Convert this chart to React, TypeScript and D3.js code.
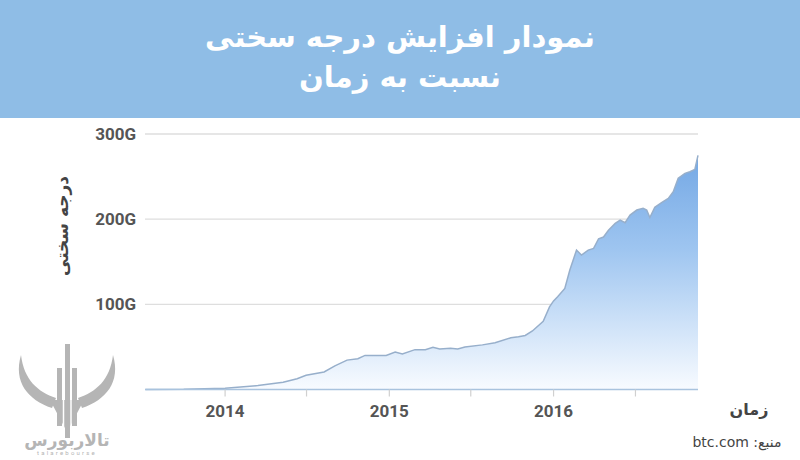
import React from "react";
import * as d3 from "d3";

const dates: string[] = [
  "2013-07-08","2013-10-01","2014-01-01","2014-03-15","2014-05-10","2014-06-10","2014-06-30","2014-08-09",
  "2014-09-02","2014-09-29","2014-10-23","2014-11-08","2014-12-25","2015-01-14","2015-01-30","2015-02-27",
  "2015-03-22","2015-04-08","2015-04-23","2015-05-17","2015-06-02","2015-06-18","2015-07-27","2015-08-24",
  "2015-09-28","2015-10-15","2015-10-30","2015-11-15","2015-12-09","2015-12-23","2016-01-01","2016-01-10",
  "2016-01-26","2016-02-06","2016-02-21","2016-03-03","2016-03-18","2016-03-30","2016-04-10","2016-04-21",
  "2016-05-02","2016-05-17","2016-05-28","2016-06-08","2016-06-19","2016-07-04","2016-07-18","2016-07-26",
  "2016-08-02","2016-08-13","2016-08-28","2016-09-12","2016-09-23","2016-10-04","2016-10-19","2016-10-30",
  "2016-11-10","2016-11-17",
];
const difficultyG: number[] = [
  0.03, 0.2, 1.5, 4.6, 8.5, 12.7, 16.7, 20.6,
  27.8, 34.5, 36.1, 40, 40, 44, 41.7, 46.8,
  46.8, 49.6, 47.6, 48.4, 47.6, 50, 52.4, 54.8,
  60.7, 61.9, 63.5, 68.7, 80, 97, 104, 109,
  118.7, 140, 163.7, 157.8, 163.7, 165.7, 177, 179,
  187, 195, 199, 195.8, 204.8, 210.7, 212.7, 210.7,
  202, 213.9, 219.3, 224.4, 232.2, 248, 253.8, 255.7,
  258.5, 275,
];
const yTicks: number[] = [100, 200, 300];
const yTickLabels: string[] = ["100G", "200G", "300G"];
const xTickDates: string[] = ["2014-01-01","2014-07-01","2015-01-01","2015-07-01","2016-01-01","2016-07-01"];
const xLabelYears: string[] = ["2014", "2015", "2016"];
const titleLines: string[] = ["نمودار افزایش درجه سختی", "نسبت به زمان"];
const yAxisTitle = "درجه سختی";
const xAxisTitle = "زمان";
const sourceText = "منبع: btc.com";
const logoFa = "تالاربورس";
const logoEn = "talarebourse";

export default function App() {
  const W = 800, H = 460;
  const parse = d3.utcParse("%Y-%m-%d");
  const data = dates.map((d, i) => ({ date: parse(d) as Date, v: difficultyG[i] }));
  const x = d3.scaleUtc()
    .domain([parse("2013-07-07") as Date, parse("2016-11-17") as Date])
    .range([145, 698]);
  const y = d3.scaleLinear().domain([0, 300]).range([389.5, 134]);
  const area = d3.area<{ date: Date; v: number }>()
    .x(d => x(d.date)).y0(y(0)).y1(d => y(d.v));
  const line = d3.line<{ date: Date; v: number }>()
    .x(d => x(d.date)).y(d => y(d.v));
  const fa = "'DejaVu Sans', sans-serif";
  const lat = "Roboto, 'DejaVu Sans', sans-serif";
  const rtl = { direction: "rtl" as const, unicodeBidi: "embed" as const };

  return (
    <svg width={W} height={H} style={{ position: "absolute", left: 0, top: 0, background: "#fff" }}>
      <defs>
        <linearGradient id="fillg" gradientUnits="userSpaceOnUse" x1="0" y1={y(300)} x2="0" y2={y(0)}>
          <stop offset="0" stopColor="rgb(106,161,226)" />
          <stop offset="0.45" stopColor="rgb(158,197,240)" />
          <stop offset="1" stopColor="rgb(248,251,255)" />
        </linearGradient>
      </defs>
      <rect x={0} y={0} width={W} height={118} fill="#8fbde6" />
      {titleLines.map((t, i) => (
        <text key={i} x={400} y={47 + i * 40} textAnchor="middle" fill="#fff"
          fontFamily={fa} fontWeight="bold" fontSize={29} style={rtl}>{t}</text>
      ))}

      {yTicks.map((t, i) => (
        <g key={t}>
          <line x1={145} x2={698} y1={y(t)} y2={y(t)} stroke="#dedede" strokeWidth={1.3} />
          <text x={136} y={y(t) + 6} textAnchor="end" fill="#555" fontFamily={lat} fontWeight="bold" fontSize={17}>{yTickLabels[i]}</text>
        </g>
      ))}

      <path d={area(data) || ""} fill="url(#fillg)" />
      <path d={line(data) || ""} fill="none" stroke="#97afcb" strokeWidth={1.5} />

      <line x1={145} x2={698} y1={y(0)} y2={y(0)} stroke="#a9c3de" strokeWidth={1.5} />
      {xTickDates.map(d => {
        const xx = x(parse(d) as Date);
        return <line key={d} x1={xx} x2={xx} y1={y(0)} y2={y(0) + 7} stroke="#d0d0d0" strokeWidth={1.2} />;
      })}
      {xLabelYears.map(yr => (
        <text key={yr} x={x(parse(yr + "-01-01") as Date)} y={417} textAnchor="middle" fill="#555"
          fontFamily={lat} fontWeight="bold" fontSize={17}>{yr}</text>
      ))}

      <text transform="translate(68,226) rotate(-90)" textAnchor="middle" fill="#444"
        fontFamily={fa} fontWeight="bold" fontSize={17} style={rtl}>{yAxisTitle}</text>
      <text x={749} y={415} textAnchor="middle" fill="#444" fontFamily={fa} fontWeight="bold" fontSize={16}
        style={rtl}>{xAxisTitle}</text>
      <text x={737} y={447} textAnchor="middle" fill="#444" fontFamily={fa} fontSize={14}
        style={rtl}>{sourceText}</text>

      <g fill="#b5b5b5">
        <path d="M21 355 C13 382 28 400 52 408 L56 398 C38 392 24 380 21 355 Z" />
        <path d="M113 355 C121 382 106 400 82 408 L78 398 C96 392 110 380 113 355 Z" />
        <path d="M50 400 L84 400 L67 432 Z" />
        <rect x={57} y={368} width={5} height={58} />
        <rect x={65} y={344} width={5} height={94} />
        <rect x={72} y={368} width={5} height={58} />
        <line x1={63.5} x2={63.5} y1={395} y2={432} stroke="#fff" strokeWidth={1.5} />
        <line x1={71} x2={71} y1={395} y2={432} stroke="#fff" strokeWidth={1.5} />
        <text x={67} y={446} textAnchor="middle" fontFamily={fa} fontWeight="bold" fontSize={17}
          style={rtl}>{logoFa}</text>
        <text x={67} y={455} textAnchor="middle" fontFamily={lat} fontSize={6} letterSpacing={2.2}>{logoEn}</text>
      </g>
    </svg>
  );
}
